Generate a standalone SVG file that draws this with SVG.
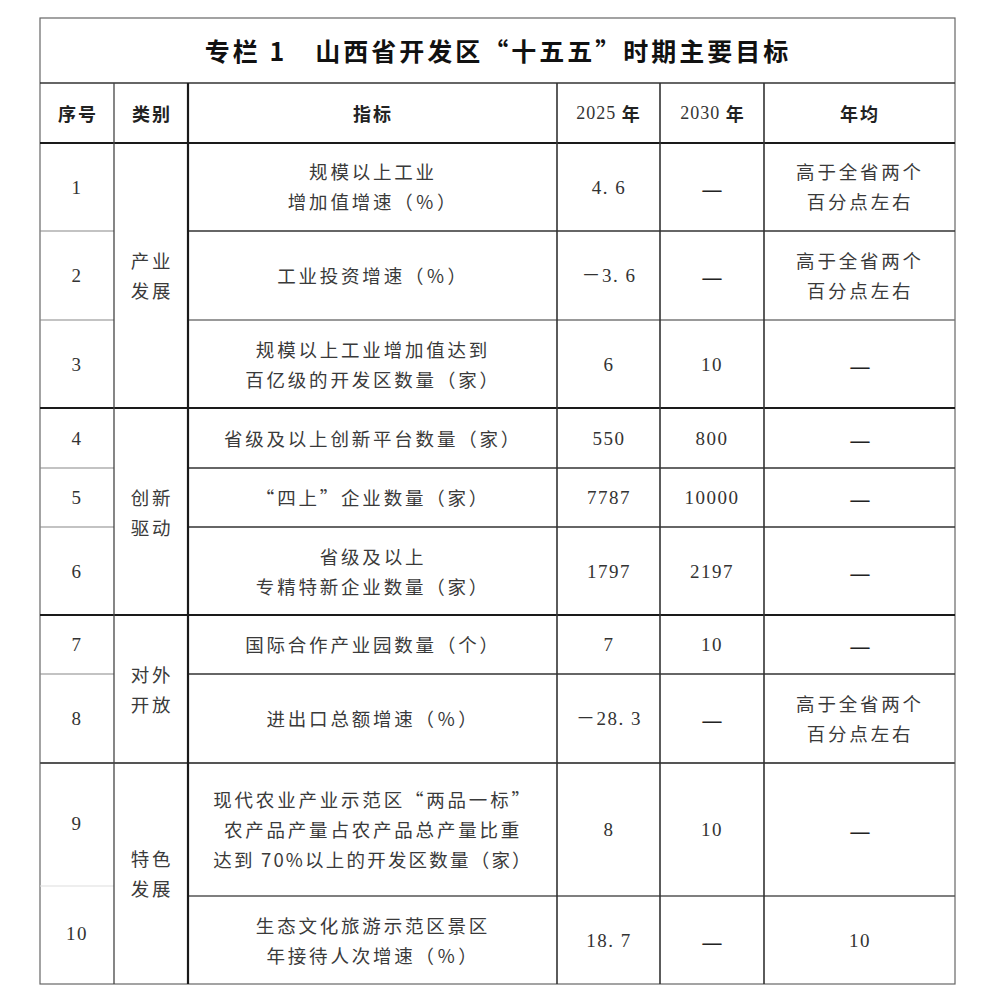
<svg xmlns="http://www.w3.org/2000/svg" width="998" height="1000" viewBox="0 0 998 1000">
<style>
.t{font-family:"Noto Sans CJK SC","Noto Sans",sans-serif;font-weight:bold;font-size:25px;fill:#111;letter-spacing:3px}
.h{font-family:"Noto Sans CJK SC","Noto Sans",sans-serif;font-weight:bold;font-size:18px;fill:#222;letter-spacing:2px}
.hn{font-family:"Liberation Serif","Noto Sans CJK SC",serif;font-size:18px;fill:#333;letter-spacing:1px}
.c{font-family:"Noto Sans CJK SC","Noto Sans",sans-serif;font-size:18.5px;fill:#3a3a3a;letter-spacing:2.8px}
.n{font-family:"Liberation Serif","Noto Sans CJK SC",serif;font-size:19px;fill:#333;letter-spacing:1.5px}
.d{font-family:"Noto Sans CJK SC",sans-serif;font-size:24px;fill:#222}
text{text-anchor:middle;dominant-baseline:central}
.thin{stroke:#888;stroke-width:1.2}
.mid{stroke:#333;stroke-width:1.6}
.thk{stroke:#1a1a1a;stroke-width:2.2}
</style>
<rect x="0" y="0" width="998" height="1000" fill="#fff"/>
<g id="connectors" fill="none">
<rect x="40" y="18" width="915" height="966" stroke="#666" stroke-width="1.2"/>
<line class="mid" x1="40" y1="83" x2="955" y2="83"/>
<line class="thk" x1="40" y1="143" x2="955" y2="143"/>
<line class="thk" x1="40" y1="408" x2="955" y2="408"/>
<line class="thk" x1="40" y1="615" x2="955" y2="615"/>
<line stroke="#555" stroke-width="2" x1="40" y1="763" x2="955" y2="763"/>
<line class="thin" x1="40" y1="231" x2="114" y2="231"/>
<line class="thin" x1="40" y1="320" x2="114" y2="320"/>
<line class="thin" x1="40" y1="468" x2="114" y2="468"/>
<line class="thin" x1="40" y1="527" x2="114" y2="527"/>
<line class="thin" x1="40" y1="674" x2="114" y2="674"/>
<line stroke="#ddd" stroke-width="1" x1="40" y1="886" x2="114" y2="886"/>
<line class="mid" x1="188" y1="231" x2="955" y2="231"/>
<line stroke="#777" stroke-width="1.6" x1="188" y1="320" x2="955" y2="320"/>
<line class="mid" x1="188" y1="468" x2="955" y2="468"/>
<line class="mid" x1="188" y1="527" x2="955" y2="527"/>
<line class="mid" x1="188" y1="674" x2="955" y2="674"/>
<line stroke="#555" stroke-width="1.4" x1="188" y1="896" x2="955" y2="896"/>
<line stroke="#444" stroke-width="1.3" x1="114" y1="83" x2="114" y2="984"/>
<line class="thk" x1="188" y1="83" x2="188" y2="984"/>
<line class="mid" x1="557" y1="83" x2="557" y2="984"/>
<line class="mid" x1="660" y1="83" x2="660" y2="984"/>
<line class="mid" x1="764" y1="83" x2="764" y2="984"/>
</g>
<g id="title"><text class="t" x="498" y="50">专栏 1　山西省开发区“十五五”时期主要目标</text></g>
<g id="header">
<text class="h" x="78" y="113">序号</text>
<text class="h" x="152" y="113">类别</text>
<text class="h" x="373" y="113">指标</text>
<text x="609" y="113"><tspan class="hn">2025 </tspan><tspan class="h">年</tspan></text>
<text x="713" y="113"><tspan class="hn">2030 </tspan><tspan class="h">年</tspan></text>
<text class="h" x="860" y="113">年均</text>
</g>
<g id="cat1"><text class="c" x="152" y="260">产业</text><text class="c" x="152" y="290">发展</text></g>
<g id="cat2"><text class="c" x="152" y="497">创新</text><text class="c" x="152" y="527">驱动</text></g>
<g id="cat3"><text class="c" x="152" y="674">对外</text><text class="c" x="152" y="704">开放</text></g>
<g id="cat4"><text class="c" x="152" y="858">特色</text><text class="c" x="152" y="888">发展</text></g>
<g id="row1">
<text class="n" x="77" y="187">1</text>
<text class="c" x="373" y="171">规模以上工业</text>
<text class="c" x="373" y="201">增加值增速（％）</text>
<text class="n" x="609" y="187">4. 6</text>
<text class="d" x="712" y="187">—</text>
<text class="c" x="860" y="171">高于全省两个</text>
<text class="c" x="860" y="201">百分点左右</text>
</g>
<g id="row2">
<text class="n" x="77" y="275">2</text>
<text class="c" x="373" y="275">工业投资增速（％）</text>
<text class="n" x="609" y="275">－3. 6</text>
<text class="d" x="712" y="275">—</text>
<text class="c" x="860" y="260">高于全省两个</text>
<text class="c" x="860" y="290">百分点左右</text>
</g>
<g id="row3">
<text class="n" x="77" y="364">3</text>
<text class="c" x="373" y="349">规模以上工业增加值达到</text>
<text class="c" x="373" y="379">百亿级的开发区数量（家）</text>
<text class="n" x="609" y="364">6</text>
<text class="n" x="712" y="364">10</text>
<text class="d" x="860" y="364">—</text>
</g>
<g id="row4">
<text class="n" x="77" y="438">4</text>
<text class="c" x="373" y="438">省级及以上创新平台数量（家）</text>
<text class="n" x="609" y="438">550</text>
<text class="n" x="712" y="438">800</text>
<text class="d" x="860" y="438">—</text>
</g>
<g id="row5">
<text class="n" x="77" y="497">5</text>
<text class="c" x="373" y="497">“四上”企业数量（家）</text>
<text class="n" x="609" y="497">7787</text>
<text class="n" x="712" y="497">10000</text>
<text class="d" x="860" y="497">—</text>
</g>
<g id="row6">
<text class="n" x="77" y="571">6</text>
<text class="c" x="373" y="556">省级及以上</text>
<text class="c" x="373" y="586">专精特新企业数量（家）</text>
<text class="n" x="609" y="571">1797</text>
<text class="n" x="712" y="571">2197</text>
<text class="d" x="860" y="571">—</text>
</g>
<g id="row7">
<text class="n" x="77" y="644">7</text>
<text class="c" x="373" y="644">国际合作产业园数量（个）</text>
<text class="n" x="609" y="644">7</text>
<text class="n" x="712" y="644">10</text>
<text class="d" x="860" y="644">—</text>
</g>
<g id="row8">
<text class="n" x="77" y="718">8</text>
<text class="c" x="373" y="718">进出口总额增速（％）</text>
<text class="n" x="609" y="718">－28. 3</text>
<text class="d" x="712" y="718">—</text>
<text class="c" x="860" y="703">高于全省两个</text>
<text class="c" x="860" y="733">百分点左右</text>
</g>
<g id="row9">
<text class="n" x="77" y="823">9</text>
<text class="c" x="373" y="799">现代农业产业示范区“两品一标”</text>
<text class="c" x="373" y="829">农产品产量占农产品总产量比重</text>
<text class="c" x="373" y="859" style="letter-spacing:2.2px">达到 70%以上的开发区数量（家）</text>
<text class="n" x="609" y="829">8</text>
<text class="n" x="712" y="829">10</text>
<text class="d" x="860" y="829">—</text>
</g>
<g id="row10">
<text class="n" x="77" y="933">10</text>
<text class="c" x="373" y="925">生态文化旅游示范区景区</text>
<text class="c" x="373" y="955">年接待人次增速（％）</text>
<text class="n" x="609" y="940">18. 7</text>
<text class="d" x="712" y="940">—</text>
<text class="n" x="860" y="940">10</text>
</g>
</svg>
